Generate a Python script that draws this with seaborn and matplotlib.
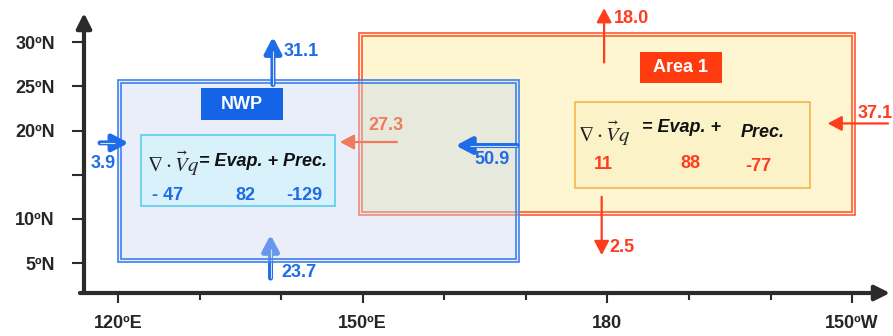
import matplotlib
matplotlib.use("Agg")
import matplotlib.pyplot as plt
import matplotlib.patches as mpatches
import seaborn as sns

sns.set_theme(style="white")
plt.rcParams['font.family'] = ['Liberation Sans', 'DejaVu Sans']
plt.rcParams['mathtext.fontset'] = 'stix'

# regions: lon_min, lon_max, lat_min, lat_max
nwp_box = [120.0, 169.2, 5.1, 25.7]
area1_box = [149.6, 210.4, 10.4, 31.0]

# budget terms (div Vq = Evap + Prec)
nwp_terms = ["- 47", "82", "-129"]
area1_terms = ["11", "88", "-77"]

# boundary fluxes
nwp_flux = {"west": "3.9", "north": "31.1", "south": "23.7", "east": "50.9", "inner": "27.3"}
area1_flux = {"north": "18.0", "south": "2.5", "east": "37.1"}

xticks_major = [120, 150, 180, 210]
xtick_labels = ["120ºE", "150ºE", "180", "150ºW"]
xticks_minor = [130, 140, 160, 170, 190, 200]
yticks = [5, 10, 15, 20, 25, 30]
ytick_labels = ["5ºN", "10ºN", "", "20ºN", "25ºN", "30ºN"]

BLUE = "#1f6ce8"
RED = "#ff3c1e"
SALMON = "#f07a5c"

fig = plt.figure(figsize=(8.93, 3.36), dpi=100)
ax = fig.add_axes([84 / 893, 43 / 336, 806 / 893, 280 / 336])
ax.set_xlim(115.83, 214.65)
ax.set_ylim(1.61, 33.3)
for s in ax.spines.values():
    s.set_visible(False)

# axes with arrow heads
axkw = dict(arrowstyle="-|>,head_length=0.9,head_width=0.45", lw=3, color="#2b2b2b",
            shrinkA=0, shrinkB=0, mutation_scale=10)
ax.annotate("", xy=(0, 1), xytext=(0, 0), xycoords="axes fraction",
            arrowprops=axkw, annotation_clip=False)
ax.annotate("", xy=(1, 0), xytext=(-0.005, 0), xycoords="axes fraction",
            arrowprops=axkw, annotation_clip=False)

ax.set_xticks(xticks_major)
ax.set_xticklabels(xtick_labels, fontsize=13, fontweight="bold")
ax.set_xticks(xticks_minor, minor=True)
ax.set_yticks(yticks)
ax.set_yticklabels(ytick_labels, fontsize=13, fontweight="bold")
ax.tick_params(axis="x", which="major", direction="out", length=7, width=1.5,
               color="#2b2b2b", pad=9, bottom=True)
ax.tick_params(axis="x", which="minor", direction="out", length=5, width=1.5,
               color="#2b2b2b", bottom=True)
ax.tick_params(axis="y", direction="out", length=9, width=1.5, color="#2b2b2b",
               pad=12, left=True)


def double_box(box, color, fill, alpha, z):
    x0, x1, y0, y1 = box
    ax.add_patch(mpatches.Rectangle((x0, y0), x1 - x0, y1 - y0, facecolor=fill,
                                    edgecolor="none", alpha=alpha, zorder=z))
    ax.add_patch(mpatches.Rectangle((x0, y0), x1 - x0, y1 - y0, facecolor="none",
                                    edgecolor=color, lw=1.2, zorder=z + 0.5))
    ax.add_patch(mpatches.Rectangle((x0 + 0.35, y0 + 0.33), x1 - x0 - 0.7, y1 - y0 - 0.66,
                                    facecolor="none", edgecolor=color, lw=1.2, zorder=z + 0.5))


def arrow(x0, y0, x1, y1, color, double=False, z=5):
    lw = 3.6 if double else 1.6
    hl, hw = (0.95, 0.5) if double else (0.85, 0.45)
    ax.annotate("", xy=(x1, y1), xytext=(x0, y0),
                arrowprops=dict(arrowstyle=f"-|>,head_length={hl},head_width={hw}",
                                lw=lw, color=color, shrinkA=0, shrinkB=0, mutation_scale=10),
                annotation_clip=False, zorder=z)
    if double:
        # thin light line inside the shaft
        dx, dy = x1 - x0, y1 - y0
        if abs(dx) > abs(dy):
            x1 = x1 - 1.7 * (1 if dx > 0 else -1)
        else:
            y1 = y1 - 1.6 * (1 if dy > 0 else -1)
        ax.plot([x0, x1], [y0, y1], color="white", lw=0.8, alpha=0.8, zorder=z + 0.1,
                clip_on=False, solid_capstyle="butt")


tkw = dict(fontsize=13, fontweight="bold", clip_on=False)
ekw = dict(fontsize=13, fontweight="bold", fontstyle="italic", color="#111111",
           ha="left", va="center", zorder=6)

# Area 1 (bottom layer)
double_box(area1_box, "#ff5a36", "#fdf6d0", 1.0, 1)
ax.add_patch(mpatches.Rectangle((176.0, 13.5), 28.8, 9.7, facecolor="#fcf2c8",
                                edgecolor="#f8b040", lw=1.1, zorder=2))
ax.add_patch(mpatches.Rectangle((184.0, 25.4), 10.0, 3.5, facecolor="#ff3c10",
                                edgecolor="none", zorder=2))
ax.text(189.0, 27.15, "Area 1", color="white", ha="center", va="center", zorder=3, **tkw)

# arrow that sits under the NWP shading
arrow(138.7, 3.3, 138.7, 8.2, BLUE, double=True, z=2.5)

# NWP box (semi-transparent over Area 1)
double_box(nwp_box, "#3f80f0", "#cdd7f0", 0.42, 3)
ax.add_patch(mpatches.Rectangle((122.8, 11.4), 23.8, 8.1, facecolor="#d8f2fb",
                                edgecolor="#3cc6ef", lw=1.1, alpha=0.9, zorder=4))
ax.add_patch(mpatches.Rectangle((130.2, 21.2), 10.0, 3.6, facecolor="#1563e6",
                                edgecolor="none", zorder=4))
ax.text(135.2, 23.0, "NWP", color="white", ha="center", va="center", zorder=5, **tkw)

arrow(154.2, 18.7, 147.2, 18.7, SALMON, z=4.5)
ax.text(152.8, 20.6, nwp_flux["inner"], color=SALMON, ha="center", va="center", zorder=4.5, **tkw)

# equations
ax.text(123.5, 16.2, r"$\nabla\cdot\vec{V}q$", fontsize=15, color="#222222",
        ha="left", va="center", zorder=6)
ax.text(129.9, 16.5, "= Evap. + Prec.", **ekw)
for t, x in zip(nwp_terms, [126.1, 135.6, 142.8]):
    ax.text(x, 12.7, t, color=BLUE, ha="center", va="center", zorder=6, **tkw)

ax.text(176.4, 19.6, r"$\nabla\cdot\vec{V}q$", fontsize=15, color="#222222",
        ha="left", va="center", zorder=6)
ax.text(184.3, 20.3, "= Evap. +", **ekw)
ax.text(196.4, 19.8, "Prec.", **ekw)
for t, x, y in zip(area1_terms, [179.5, 190.2, 198.5], [16.1, 16.3, 15.9]):
    ax.text(x, y, t, color=RED, ha="center", va="center", zorder=6, **tkw)

# NWP fluxes
arrow(117.8, 18.6, 121.3, 18.6, BLUE, double=True, z=7)
ax.text(118.2, 16.3, nwp_flux["west"], color=BLUE, ha="center", va="center", zorder=7, **tkw)
arrow(139.0, 25.2, 139.0, 30.6, BLUE, double=True, z=7)
ax.text(140.3, 28.9, nwp_flux["north"], color=BLUE, ha="left", va="center", zorder=7, **tkw)
ax.text(140.0, 3.9, nwp_flux["south"], color=BLUE, ha="left", va="center", zorder=7, **tkw)
arrow(168.9, 18.3, 161.4, 18.3, BLUE, double=True, z=7)
ax.text(165.9, 16.7, nwp_flux["east"], color=BLUE, ha="center", va="center", zorder=7, **tkw)

# Area 1 fluxes
arrow(179.6, 27.7, 179.6, 33.85, RED, z=7)
ax.text(180.8, 32.7, area1_flux["north"], color=RED, ha="left", va="center", zorder=7, **tkw)
arrow(179.3, 12.5, 179.3, 5.9, RED, z=7)
ax.text(180.3, 6.8, area1_flux["south"], color=RED, ha="left", va="center", zorder=7, **tkw)
arrow(214.4, 20.8, 207.0, 20.8, RED, z=7)
ax.text(210.7, 21.9, area1_flux["east"], color=RED, ha="left", va="center", zorder=7, **tkw)

fig.savefig("out.png", dpi=100)
